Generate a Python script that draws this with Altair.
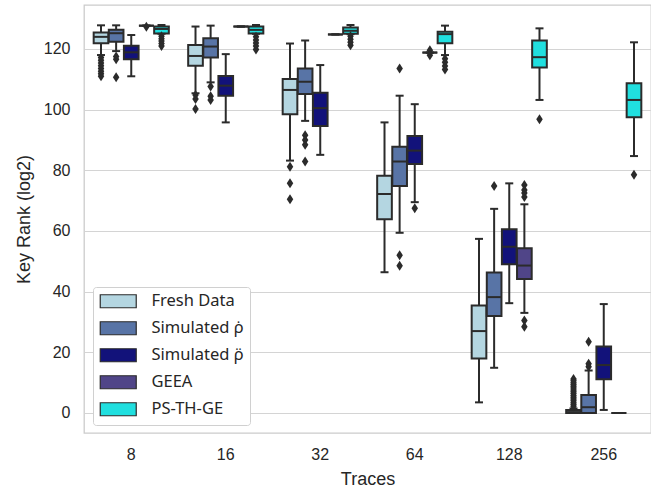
import altair as alt
import pandas as pd

traces = ["8", "16", "32", "64", "128", "256"]
methods = ["Fresh Data", "Simulated ρ̇", "Simulated ρ̈", "GEEA", "PS-TH-GE"]
colors = ["#b4d6e1", "#5874a6", "#12127a", "#504588", "#20dfdf"]
edge = "#2b2b2b"

# box statistics per method, one value per trace count
lower = {
    "Fresh Data":   [118.0, 105.4, 83.2, 46.4, 3.5, 0.0],
    "Simulated ρ̇": [119.3, 109.0, 96.3, 59.4, 14.9, 0.0],
    "Simulated ρ̈": [111.0, 95.8, 85.1, 69.5, 36.2, 1.0],
    "GEEA":         [127.7, 127.4, 124.8, 118.8, 33.0, 0.0],
    "PS-TH-GE":     [125.0, 125.0, 124.9, 118.0, 103.2, 84.7],
}
q1 = {
    "Fresh Data":   [121.9, 114.5, 98.5, 63.9, 18.0, 0.0],
    "Simulated ρ̇": [122.4, 117.2, 105.2, 74.8, 32.0, 0.0],
    "Simulated ρ̈": [116.6, 104.6, 94.6, 82.1, 49.0, 11.1],
    "GEEA":         [127.7, 127.4, 124.8, 118.8, 44.2, 0.0],
    "PS-TH-GE":     [125.1, 125.1, 125.0, 121.9, 113.9, 97.5],
}
median = {
    "Fresh Data":   [124.0, 117.7, 106.5, 72.2, 27.0, 0.3],
    "Simulated ρ̇": [125.2, 120.8, 109.2, 82.9, 38.2, 1.9],
    "Simulated ρ̈": [118.9, 107.9, 100.5, 86.5, 54.8, 15.8],
    "GEEA":         [127.7, 127.4, 124.8, 118.8, 48.6, 0.0],
    "PS-TH-GE":     [126.6, 126.3, 126.0, 124.9, 117.3, 103.2],
}
q3 = {
    "Fresh Data":   [125.4, 121.3, 110.1, 78.2, 35.4, 1.0],
    "Simulated ρ̇": [126.3, 123.5, 113.6, 87.8, 46.3, 5.9],
    "Simulated ρ̈": [121.1, 111.1, 105.6, 91.3, 60.6, 21.9],
    "GEEA":         [127.7, 127.4, 124.8, 118.8, 54.3, 0.0],
    "PS-TH-GE":     [127.4, 127.4, 127.1, 125.7, 122.8, 108.7],
}
upper = {
    "Fresh Data":   [127.8, 127.4, 121.8, 95.8, 57.4, 1.5],
    "Simulated ρ̇": [127.8, 127.7, 122.8, 104.6, 67.3, 14.0],
    "Simulated ρ̈": [124.6, 118.3, 114.7, 101.8, 75.7, 35.9],
    "GEEA":         [127.7, 127.4, 124.8, 118.8, 68.8, 0.0],
    "PS-TH-GE":     [127.9, 127.9, 127.9, 127.7, 126.8, 122.2],
}

# outliers per method, one list per trace count
outliers = {
    "Fresh Data": [
        [117.2, 116.3, 115.4, 114.5, 113.6, 112.7, 111.8, 111.0],
        [104.8, 103.5, 100.2],
        [81.2, 75.7, 70.5],
        [],
        [],
        [2.2, 2.8, 3.4, 4.0, 4.6, 5.2, 5.8, 6.4, 7.0, 7.6, 8.2, 8.8, 9.4, 10.0, 10.6, 11.2],
    ],
    "Simulated ρ̇": [
        [117.5, 116.6, 110.7],
        [107.6, 104.4, 103.2],
        [91.6, 90.0, 88.4, 82.9],
        [113.6, 52.0, 48.5],
        [74.8],
        [15.2, 16.2, 23.5],
    ],
    "Simulated ρ̈": [[], [], [], [67.5], [], []],
    "GEEA": [
        [127.3],
        [],
        [],
        [119.6, 117.9],
        [75.2, 73.5, 72.5, 71.2, 30.5, 28.4],
        [],
    ],
    "PS-TH-GE": [
        [124.2, 123.4, 122.6, 121.8, 121.0],
        [124.0, 123.0, 122.0, 121.0, 119.8],
        [124.2, 123.2, 122.2, 121.2],
        [116.8, 115.6, 114.4, 113.2],
        [96.8],
        [78.5],
    ],
}

rows = []
cap_rows = []
out_rows = []
for m in methods:
    for i, t in enumerate(traces):
        rows.append(dict(trace=t, method=m, lw=lower[m][i], q1=q1[m][i],
                         med=median[m][i], q3=q3[m][i], uw=upper[m][i]))
        cap_rows.append(dict(trace=t, method=m, v=lower[m][i]))
        cap_rows.append(dict(trace=t, method=m, v=upper[m][i]))
        for v in outliers[m][i]:
            out_rows.append(dict(trace=t, method=m, v=v))

stats = pd.DataFrame(rows)
caps = pd.DataFrame(cap_rows)
outs = pd.DataFrame(out_rows)

font = "Liberation Sans"
x_enc = alt.X("trace:N", sort=traces, title="Traces",
              scale=alt.Scale(paddingInner=0.2, paddingOuter=0.1),
              axis=alt.Axis(labelAngle=0, ticks=False, domain=False, grid=False,
                            labelPadding=13, titlePadding=8))
xo_enc = alt.XOffset("method:N", sort=methods,
                     scale=alt.Scale(paddingInner=0.03, paddingOuter=0.015))
y_scale = alt.Scale(domain=[-6.6, 134.5], nice=False, zero=False)
y_axis = alt.Axis(values=[0, 20, 40, 60, 80, 100, 120], ticks=False, domain=False,
                  labelPadding=14, titlePadding=10)

whisk = alt.Chart(stats).mark_rule(color=edge, strokeWidth=2).encode(
    x=x_enc, xOffset=xo_enc,
    y=alt.Y("lw:Q", scale=y_scale, axis=y_axis, title="Key Rank (log2)"),
    y2="uw:Q",
)
box = alt.Chart(stats).mark_bar(stroke=edge, strokeWidth=2, opacity=1).encode(
    x=x_enc, xOffset=xo_enc,
    y=alt.Y("q1:Q", scale=y_scale),
    y2="q3:Q",
    color=alt.Color("method:N", sort=methods,
                    scale=alt.Scale(domain=methods, range=colors),
                    legend=alt.Legend(title=None)),
)
med = alt.Chart(stats).mark_tick(color=edge, thickness=2, size=15, opacity=1).encode(
    x=x_enc, xOffset=xo_enc, y=alt.Y("med:Q", scale=y_scale),
)
cap = alt.Chart(caps).mark_tick(color=edge, thickness=2, size=8, opacity=1).encode(
    x=x_enc, xOffset=xo_enc, y=alt.Y("v:Q", scale=y_scale),
)
flier = alt.Chart(outs).mark_point(
    shape="M0,-1L0.65,0L0,1L-0.65,0Z", filled=True, size=100, color=edge, opacity=1
).encode(
    x=x_enc, xOffset=xo_enc, y=alt.Y("v:Q", scale=y_scale),
)

chart = alt.layer(whisk, box, med, cap, flier).properties(
    width=567, height=428,
    autosize=alt.AutoSizeParams(type="none"),
    padding={"left": 84, "top": 5, "right": 0, "bottom": 60},
).configure_view(
    stroke="#cccccc", strokeWidth=1.3
).configure_axis(
    labelFont=font, titleFont=font, labelFontSize=16, titleFontSize=18,
    labelColor="#262626", titleColor="#262626", titleFontWeight="normal",
    gridColor="#d4d4d4", gridWidth=1.2,
).configure_legend(
    orient="none", legendX=9, legendY=282,
    labelFont="Noto Sans", labelFontSize=16.5, labelColor="#262626",
    symbolType="M-1,-0.93H4.14V0.93H-1Z", symbolSize=196,
    symbolStrokeColor=edge, symbolStrokeWidth=1.2, symbolOpacity=1,
    labelOffset=36, rowPadding=8, padding=6,
    fillColor="white", strokeColor="#d0d0d0", cornerRadius=3,
)

chart.save("out.html", embed_options={"renderer": "svg", "actions": False})
